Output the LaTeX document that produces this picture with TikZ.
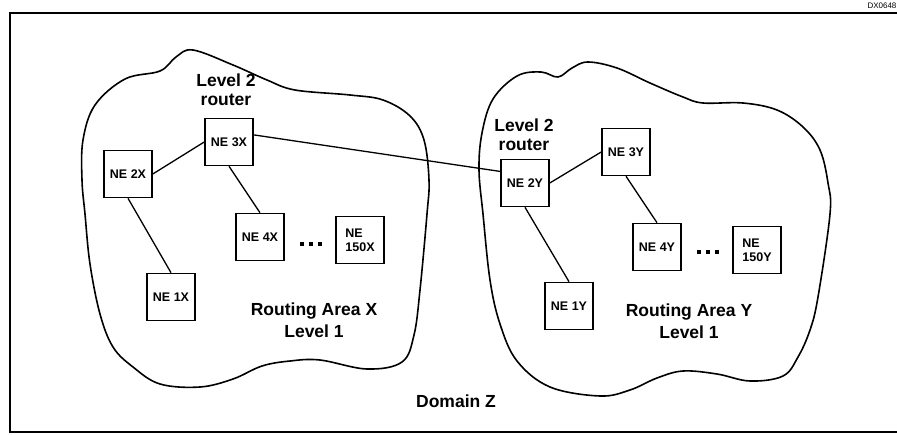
\documentclass[tikz,border=0pt]{standalone}
\usepackage{fontspec}
\setmainfont{Liberation Sans}
\usepackage{tikz}
\usetikzlibrary{positioning}
\usetikzlibrary{calc}
\tikzstyle{nebox}=[rectangle,draw,line width=1.6pt,fill=white,minimum width=48pt,minimum height=47pt,inner sep=1pt,font=\fontsize{12.5}{14}\selectfont\bfseries,align=left]
\tikzstyle{undirectededge} = [draw,line width=1.3pt]
\tikzstyle{area} = [draw,line width=1.6pt]
\tikzstyle{lbl} = [font=\fontsize{17.5}{19}\selectfont\bfseries,align=center]
\tikzset{dotmark/.style={fill=black,inner sep=0pt,minimum size=3.5pt}}

\begin{document}
\begin{tikzpicture}[x=1pt,y=-1pt]

 \useasboundingbox (0,0) rectangle (897,434);

 %frame
 \draw[line width=1.3pt] (900,13) -- (10,13) -- (10,432) -- (900,432);
 \node[font=\fontsize{8}{9}\selectfont, anchor=west] (tag) at (864,6) {DX0648};

 %Area X
 \draw[area] plot[smooth cycle, tension=0.6] coordinates {
   (160,71) (176,57) (193,50) (233,65) (267,80) (295,90) (350,95) (383,100)
   (410,116) (424,140) (429,180) (427,214) (420,290) (414,335) (402,362)
   (367,369) (320,360) (290,361) (262,366) (233,379) (200,387) (160,384)
   (133,367) (113,347) (100,314) (90,264) (85,214) (82,180) (83,140)
   (95,105) (125,79)};

 %Area Y
 \draw[area] plot[smooth cycle, tension=0.6] coordinates {
   (558,77) (572,68) (588,62) (617,68) (650,83) (683,97) (703,103) (743,103)
   (777,110) (803,127) (820,150) (828,183) (830,214) (818,297) (810,330)
   (798,357) (783,376) (750,381) (717,374) (683,371) (657,378) (630,390)
   (600,396) (550,387) (517,361) (500,324) (490,280) (483,214) (479,170)
   (482,133) (493,99) (517,76) (541,72)};

 %NE boxes
 \foreach \x/\y/\name/\label in {229/142/ne3x/NE 3X, 128/174/ne2x/NE 2X, 260/237/ne4x/NE 4X,
          360/240/ne150x/{NE\\150X}, 171/297/ne1x/NE 1X,
          525/183/ne2y/NE 2Y, 626/152/ne3y/NE 3Y, 657/247/ne4y/NE 4Y,
          757/250/ne150y/{NE\\150Y}, 569/306/ne1y/NE 1Y}
          \node[nebox] (\name) at (\x,\y) {\label};

 \foreach \source/ \dest in {ne2x.east/ne3x.west, ne2x.south/ne1x.north, ne3x.south/ne4x.north,
          ne3x.16/ne2y.155, ne2y.east/ne3y.west, ne2y.south/ne1y.north, ne3y.south/ne4y.north}
         \path[undirectededge] (\source) -- (\dest);

 %dots
 \foreach \x in {302,311,320}
         \fill (\x-1.8,242.2) rectangle (\x+1.8,245.8);
 \foreach \x in {699,708,717}
         \fill (\x-1.8,250.2) rectangle (\x+1.8,253.8);

 %labels
 \node[lbl] (l2x) at (226,90) {Level 2\\router};
 \node[lbl] (l2y) at (524,135) {Level 2\\router};
 \node[lbl] (rax) at (314,320) {Routing Area X\\[3pt]Level 1};
 \node[lbl] (ray) at (689,321) {Routing Area Y\\[3pt]Level 1};
 \node[lbl] (dom) at (456,401) {Domain Z};

\end{tikzpicture}
\end{document}
